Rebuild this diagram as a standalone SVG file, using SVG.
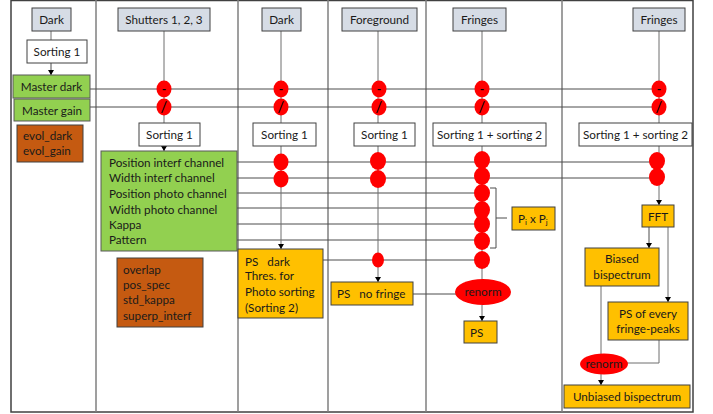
<svg xmlns="http://www.w3.org/2000/svg" width="713" height="414" viewBox="0 0 713 414">
<defs>
<marker id="ah" markerWidth="6" markerHeight="6" refX="5" refY="3" orient="auto" markerUnits="userSpaceOnUse" viewBox="0 0 6 6">
<path d="M0,0 L5,3 L0,6 Z" fill="#000"/>
</marker>
<style>
text{font-family:Lato,"Liberation Sans",Arial,sans-serif;font-size:11.7px;fill:#1a1a1a}
.c{text-anchor:middle}
.hdr{fill:#D6DCE5;stroke:#404040;stroke-width:1}
.wb{fill:#fff;stroke:#404040;stroke-width:1}
.gr{fill:#92D050;stroke:#595959;stroke-width:1}
.br{fill:#C55A11;stroke:#404040;stroke-width:1}
.yl{fill:#FFC000;stroke:#404040;stroke-width:1}
.rd{fill:#FF0000}
.ln{stroke:#4d4d4d;stroke-width:1;fill:none}
.vl{stroke:#6f6f6f;stroke-width:1;fill:none}
.col{stroke:#7f7f7f;stroke-width:1.5;fill:none}
.op{font-size:12px;font-weight:bold;text-anchor:middle;fill:#000}
.sl{font-size:15px;text-anchor:middle;fill:#000}
</style>
</defs>
<rect width="713" height="414" fill="#fff"/>
<g id="frame">
<rect x="11" y="0.5" width="682" height="411.5" fill="none" stroke="#404040" stroke-width="1.5"/>
<line class="col" x1="96" y1="0" x2="96" y2="412"/>
<line class="col" x1="238" y1="0" x2="238" y2="412"/>
<line class="col" x1="328" y1="0" x2="328" y2="412"/>
<line class="col" x1="426" y1="0" x2="426" y2="412"/>
<line class="col" x1="562" y1="0" x2="562" y2="412"/>
</g>
<g id="connectors">
<line class="vl" x1="51" y1="31" x2="51" y2="40"/>
<line class="ln" x1="51" y1="63" x2="51" y2="75" marker-end="url(#ah)"/>
<line class="ln" x1="90" y1="89" x2="659" y2="89"/>
<line class="ln" x1="90" y1="107" x2="659" y2="107"/>
<line class="vl" x1="164" y1="31" x2="164" y2="123"/>
<line class="vl" x1="281" y1="31" x2="281" y2="123"/>
<line class="vl" x1="378" y1="31" x2="378" y2="123"/>
<line class="vl" x1="482" y1="31" x2="482" y2="123"/>
<line class="vl" x1="659" y1="31" x2="659" y2="123"/>
<line class="ln" x1="164" y1="146" x2="164" y2="151" marker-end="url(#ah)"/>
<line class="ln" x1="237" y1="162" x2="659" y2="162"/>
<line class="ln" x1="237" y1="178" x2="659" y2="178"/>
<line class="ln" x1="237" y1="193" x2="482" y2="193"/>
<line class="ln" x1="237" y1="208" x2="482" y2="208"/>
<line class="ln" x1="237" y1="224" x2="482" y2="224"/>
<line class="ln" x1="237" y1="240" x2="482" y2="240"/>
<line class="vl" x1="281" y1="146" x2="281" y2="249" marker-end="url(#ah)"/>
<line class="vl" x1="378" y1="146" x2="378" y2="282" marker-end="url(#ah)"/>
<line class="vl" x1="482" y1="146" x2="482" y2="280"/>
<line class="ln" x1="316" y1="260" x2="482" y2="260"/>
<line class="ln" x1="413" y1="294" x2="456" y2="294"/>
<line class="vl" x1="482" y1="305" x2="482" y2="321" marker-end="url(#ah)"/>
<path class="ln" d="M490,188 L496,188 L496,248 L490,248 M496,218 L507,218" stroke="#000"/>
<line class="vl" x1="659" y1="146" x2="659" y2="205" marker-end="url(#ah)"/>
<line class="ln" x1="649" y1="227" x2="649" y2="248" marker-end="url(#ah)"/>
<line class="vl" x1="668" y1="227" x2="668" y2="302" marker-end="url(#ah)"/>
<line class="vl" x1="601" y1="286" x2="601" y2="385" marker-end="url(#ah)"/>
<path class="vl" d="M659,340 L659,363 L627,363"/>
</g>
<g id="n-dark1"><rect class="hdr" x="32" y="8" width="39" height="23"/><text class="c" x="51.5" y="24">Dark</text></g>
<g id="n-sort-a"><rect class="wb" x="27" y="40" width="60" height="23"/><text class="c" x="57" y="56">Sorting 1</text></g>
<g id="n-mdark"><rect class="gr" x="13" y="75" width="77" height="23"/><text class="c" x="51.5" y="91">Master dark</text></g>
<g id="n-mgain"><rect class="gr" x="14" y="99" width="76" height="22"/><text class="c" x="52" y="115">Master gain</text></g>
<g id="n-evol"><rect class="br" x="17" y="125" width="66" height="37"/><text x="23" y="140">evol_dark</text><text x="23" y="155">evol_gain</text></g>
<g id="n-shut"><rect class="hdr" x="118" y="8" width="92" height="23"/><text class="c" x="164" y="24">Shutters 1, 2, 3</text></g>
<g id="n-dark2"><rect class="hdr" x="262" y="8" width="39" height="23"/><text class="c" x="281.5" y="24">Dark</text></g>
<g id="n-fg"><rect class="hdr" x="342" y="8" width="75" height="23"/><text class="c" x="379.5" y="24">Foreground</text></g>
<g id="n-fr1"><rect class="hdr" x="453" y="8" width="53" height="23"/><text class="c" x="479.5" y="24">Fringes</text></g>
<g id="n-fr2"><rect class="hdr" x="633" y="8" width="52" height="23"/><text class="c" x="659" y="24">Fringes</text></g>
<g id="n-sort-b"><rect class="wb" x="139" y="123" width="61" height="23"/><text class="c" x="169.5" y="139">Sorting 1</text></g>
<g id="n-sort-c"><rect class="wb" x="253" y="123" width="63" height="23"/><text class="c" x="284.5" y="139">Sorting 1</text></g>
<g id="n-sort-d"><rect class="wb" x="354" y="123" width="61" height="23"/><text class="c" x="384.5" y="139">Sorting 1</text></g>
<g id="n-sort-e"><rect class="wb" x="433" y="123" width="113" height="23"/><text class="c" x="489.5" y="139">Sorting 1 + sorting 2</text></g>
<g id="n-sort-f"><rect class="wb" x="579" y="123" width="113" height="23"/><text class="c" x="635.5" y="139">Sorting 1 + sorting 2</text></g>
<g id="n-params"><rect class="gr" x="101" y="151" width="136" height="100"/>
<text x="109" y="167">Position interf channel</text>
<text x="109" y="182">Width interf channel</text>
<text x="109" y="198">Position photo channel</text>
<text x="109" y="214">Width photo channel</text>
<text x="109" y="229">Kappa</text>
<text x="109" y="244">Pattern</text></g>
<g id="n-overlap"><rect class="br" x="117" y="258" width="86" height="69"/>
<text x="123" y="274">overlap</text><text x="123" y="289">pos_spec</text><text x="123" y="304">std_kappa</text><text x="123" y="320">superp_interf</text></g>
<g id="n-psdark"><rect class="yl" x="238" y="249" width="85" height="69"/>
<text x="245" y="266" xml:space="preserve">PS   dark</text><text x="245" y="280">Thres. for</text><text x="245" y="296">Photo sorting</text><text x="245" y="312">(Sorting 2)</text></g>
<g id="n-psnf"><rect class="yl" x="331" y="282" width="82" height="23"/><text x="337" y="298" xml:space="preserve">PS   no fringe</text></g>
<g id="n-pipj"><rect class="yl" x="512" y="207" width="43" height="23"/><text x="518" y="223">P<tspan font-size="8" dy="2">i</tspan><tspan dy="-2"> x P</tspan><tspan font-size="8" dy="2">j</tspan></text></g>
<g id="n-ps"><rect class="yl" x="464" y="321" width="33" height="22"/><text x="470" y="337">PS</text></g>
<g id="n-fft"><rect class="yl" x="642" y="205" width="32" height="22"/><text class="c" x="658" y="221">FFT</text></g>
<g id="n-biased"><rect class="yl" x="585" y="248" width="74" height="38"/><text class="c" x="622" y="263">Biased</text><text class="c" x="622" y="279">bispectrum</text></g>
<g id="n-psfp"><rect class="yl" x="608" y="302" width="80" height="38"/><text class="c" x="648" y="318">PS of every</text><text class="c" x="648" y="333">fringe-peaks</text></g>
<g id="n-unb"><rect class="yl" x="564" y="385" width="126" height="23"/><text class="c" x="627" y="401">Unbiased bispectrum</text></g>
<g id="n-renorm1"><ellipse class="rd" cx="483" cy="292" rx="28" ry="13"/><text class="c" x="483" y="296">renorm</text></g>
<g id="n-renorm2"><ellipse class="rd" cx="604" cy="364" rx="24" ry="10.5"/><text class="c" x="604" y="368">renorm</text></g>
<g id="ops">
<g class="rd">
<ellipse cx="164" cy="89" rx="7.5" ry="8.5"/><ellipse cx="164" cy="107" rx="7.5" ry="8.5"/>
<ellipse cx="281" cy="89" rx="7.5" ry="8.5"/><ellipse cx="281" cy="107" rx="7.5" ry="8.5"/>
<ellipse cx="379" cy="89" rx="7.5" ry="8.5"/><ellipse cx="379" cy="107" rx="7.5" ry="8.5"/>
<ellipse cx="482" cy="89" rx="7.5" ry="8.5"/><ellipse cx="482" cy="107" rx="7.5" ry="8.5"/>
<ellipse cx="659" cy="89" rx="7.5" ry="8.5"/><ellipse cx="659" cy="107" rx="7.5" ry="8.5"/>
<ellipse cx="281" cy="162" rx="7.5" ry="8.5"/><ellipse cx="281" cy="179" rx="7.5" ry="8.5"/>
<ellipse cx="378" cy="161" rx="8" ry="9"/><ellipse cx="378" cy="179" rx="8" ry="9"/>
<ellipse cx="378" cy="260" rx="6" ry="7.5"/>
<ellipse cx="482" cy="160" rx="8" ry="9"/><ellipse cx="482" cy="176" rx="8" ry="9"/>
<ellipse cx="482" cy="193" rx="8" ry="9"/><ellipse cx="482" cy="210" rx="8" ry="9"/>
<ellipse cx="482" cy="224" rx="8" ry="9"/><ellipse cx="482" cy="241" rx="8" ry="9"/>
<ellipse cx="482" cy="260" rx="8" ry="9"/>
<ellipse cx="657" cy="161" rx="8" ry="9"/><ellipse cx="657" cy="177" rx="8" ry="9"/>
</g>
<text class="op" x="164" y="93">-</text><text class="sl" x="164" y="112">/</text>
<text class="op" x="281" y="93">-</text><text class="sl" x="281" y="112">/</text>
<text class="op" x="379" y="93">-</text><text class="sl" x="379" y="112">/</text>
<text class="op" x="482" y="93">-</text><text class="sl" x="482" y="112">/</text>
<text class="op" x="659" y="93">-</text><text class="sl" x="659" y="112">/</text>
</g>
</svg>
